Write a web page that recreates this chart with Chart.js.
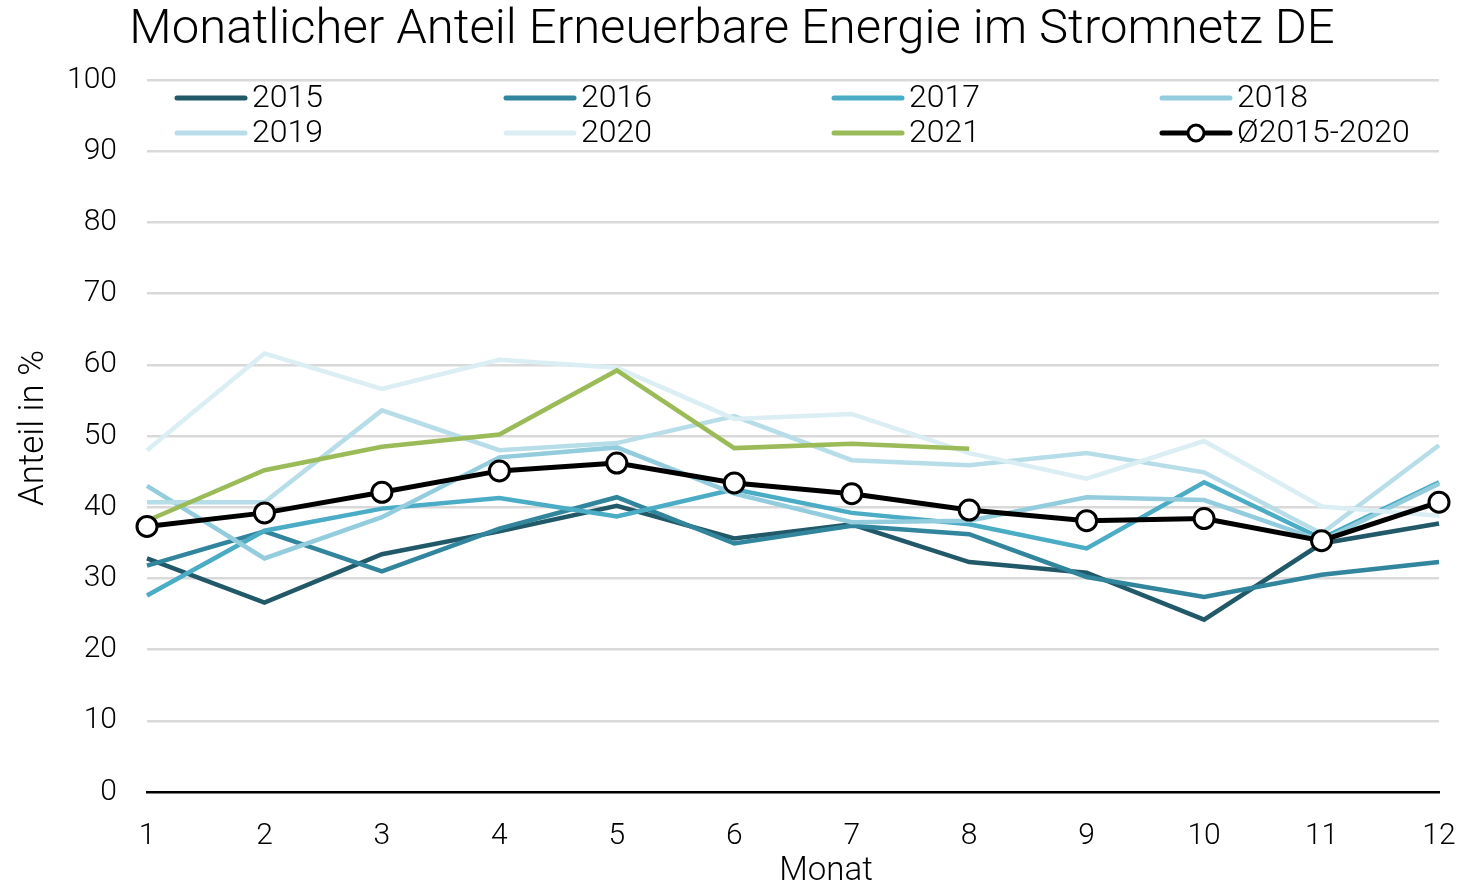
<!DOCTYPE html>
<html>
<head>
<meta charset="utf-8">
<title>Anteil Erneuerbare Energie</title>
<script src="https://cdn.jsdelivr.net/npm/chart.js@4.4.0/dist/chart.umd.min.js"></script>
<style>
  body { margin: 0; background: #fff; }
  canvas { display: block; }
</style>
</head>
<body>
<canvas id="chart" width="1460" height="888"></canvas>
<script>
// Monatswerte in %
const months = ['1', '2', '3', '4', '5', '6', '7', '8', '9', '10', '11', '12'];
const y2015 = [32.8, 26.6, 33.4, 36.6, 40.2, 35.6, 37.6, 32.3, 30.8, 24.2, 34.9, 37.7];
const y2016 = [31.8, 36.6, 31.0, 37.0, 41.4, 34.9, 37.4, 36.2, 30.2, 27.4, 30.5, 32.3];
const y2017 = [27.6, 36.7, 39.8, 41.3, 38.7, 42.5, 39.2, 37.6, 34.2, 43.5, 35.6, 43.5];
const y2018 = [43.0, 32.8, 38.6, 47.0, 48.4, 41.9, 37.9, 38.1, 41.4, 41.0, 35.3, 43.3];
const y2019 = [40.7, 40.7, 53.6, 48.0, 49.0, 52.8, 46.6, 45.9, 47.6, 44.9, 36.3, 48.7];
const y2020 = [48.0, 61.6, 56.6, 60.7, 59.6, 52.4, 53.1, 47.6, 44.0, 49.3, 40.1, 38.8];
const y2021 = [38.1, 45.2, 48.5, 50.2, 59.2, 48.3, 48.9, 48.2];
const avg1520 = [37.3, 39.2, 42.1, 45.1, 46.2, 43.4, 41.9, 39.6, 38.1, 38.4, 35.3, 40.7];
const yTicks = [0, 10, 20, 30, 40, 50, 60, 70, 80, 90, 100];

const FONT = 'Roboto, "Liberation Sans", sans-serif';

function yearLine(label, data, color, order) {
    return {
        label: label,
        data: data,
        borderColor: color,
        backgroundColor: color,
        borderWidth: 4.5,
        pointRadius: 0,
        tension: 0,
        order: order
    };
}

// Legende in zwei Zeilen mit vier Spalten oben im Diagramm
const legendGrid = {
    id: 'legendGrid',
    afterDatasetsDraw(chart) {
        const ctx = chart.ctx;
        const cols = [175, 504, 832, 1160];
        const rows = [98, 133];
        ctx.save();
        ctx.font = '300 32px ' + FONT;
        ctx.textBaseline = 'middle';
        ctx.textAlign = 'left';
        chart.data.datasets.forEach((ds, i) => {
            const x = cols[i % 4];
            const y = rows[Math.floor(i / 4)];
            ctx.strokeStyle = ds.borderColor;
            ctx.lineWidth = 5;
            ctx.lineCap = 'round';
            ctx.beginPath();
            ctx.moveTo(x + 2, y);
            ctx.lineTo(x + 70, y);
            ctx.stroke();
            if (ds.pointRadius > 0) {
                ctx.beginPath();
                ctx.arc(x + 36, y, 8, 0, Math.PI * 2);
                ctx.fillStyle = '#fff';
                ctx.fill();
                ctx.lineWidth = 3;
                ctx.stroke();
            }
            ctx.fillStyle = '#000';
            ctx.fillText(ds.label, x + 77, y + 1);
        });
        ctx.restore();
    }
};

// Titel und Achsentitel
const textPlugin = {
    id: 'textPlugin',
    afterDraw(chart) {
        const ctx = chart.ctx;
        ctx.save();
        ctx.fillStyle = '#000';
        ctx.textAlign = 'center';
        ctx.textBaseline = 'middle';
        ctx.font = '300 49px ' + FONT;
        ctx.fillText('Monatlicher Anteil Erneuerbare Energie im Stromnetz DE', 732, 31);
        ctx.font = '300 33px ' + FONT;
        ctx.fillText('Monat', 826, 872);
        ctx.font = '300 35px ' + FONT;
        ctx.translate(34, 428);
        ctx.rotate(-Math.PI / 2);
        ctx.fillText('Anteil in %', 0, 0);
        ctx.restore();
    }
};

new Chart(document.getElementById('chart'), {
    type: 'line',
    data: {
        labels: months,
        datasets: [
            yearLine('2015', y2015, '#215968', 7),
            yearLine('2016', y2016, '#31859C', 6),
            yearLine('2017', y2017, '#4BACC6', 5),
            yearLine('2018', y2018, '#93CDDD', 4),
            yearLine('2019', y2019, '#B7DEE8', 3),
            yearLine('2020', y2020, '#DAEEF3', 2),
            yearLine('2021', y2021, '#9BBB59', 1),
            {
                label: 'Ø2015-2020',
                data: avg1520,
                borderColor: '#000',
                backgroundColor: '#fff',
                borderWidth: 5,
                pointRadius: 10,
                pointBorderWidth: 3,
                pointBorderColor: '#000',
                pointBackgroundColor: '#fff',
                tension: 0,
                order: 0
            }
        ]
    },
    options: {
        responsive: false,
        animation: false,
        layout: { padding: { top: 80, right: 21, left: 0, bottom: 0 } },
        plugins: {
            legend: { display: false },
            tooltip: { enabled: false }
        },
        scales: {
            x: {
                offset: false,
                grid: { display: false, drawTicks: false },
                border: { display: true, color: '#000', width: 2.5 },
                ticks: { color: '#000', font: { family: FONT, size: 30, weight: 300 }, padding: 26 },
                afterFit(scale) {
                    scale.height = 96;
                    scale.paddingLeft = 0;
                    scale.paddingRight = 0;
                }
            },
            y: {
                min: 0,
                max: 100,
                afterBuildTicks(scale) { scale.ticks = yTicks.map(v => ({ value: v })); },
                grid: {
                    color: ctx => ctx.tick && ctx.tick.value === 0 ? 'rgba(0,0,0,0)' : '#d9d9d9',
                    lineWidth: 2.5,
                    drawTicks: false
                },
                border: { display: false },
                ticks: { color: '#000', font: { family: FONT, size: 30, weight: 300 }, padding: 30 },
                afterFit(scale) { scale.width = 147; }
            }
        }
    },
    plugins: [legendGrid, textPlugin]
});
</script>
</body>
</html>
